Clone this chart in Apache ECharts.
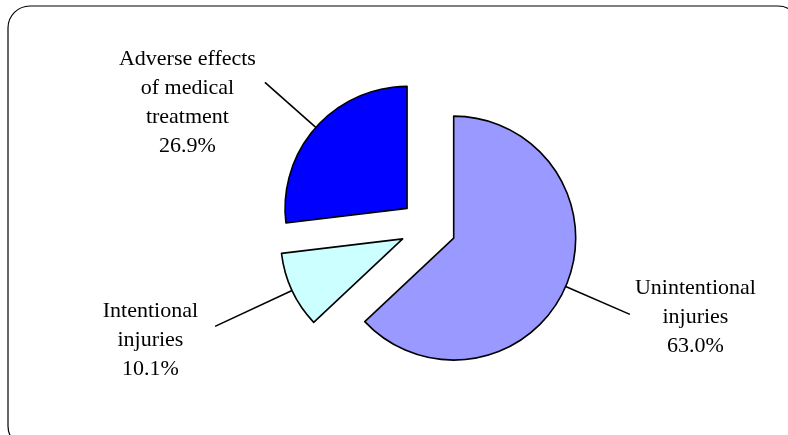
<!DOCTYPE html>
<html>
<head>
<meta charset="utf-8">
<script src="https://cdn.jsdelivr.net/npm/echarts@6/dist/echarts.min.js"></script>
<style>
html,body{margin:0;padding:0;background:#fff;}
#chart{width:788px;height:435px;}
</style>
</head>
<body>
<div id="chart"></div>
<script>
const categories = ['Unintentional\ninjuries', 'Intentional\ninjuries', 'Adverse effects\nof medical\ntreatment'];
const values = [63.0, 10.1, 26.9];
const colors = ['#9999FF', '#CCFFFF', '#0000FF'];

// label leader-line lengths and text padding (styling only)
const lineLengths = [70, 85, 68];
const labelPadding = [[5, 0, 0, 0], [27, 12, 0, 0], [40, 4, 0, 0]];

const chart = echarts.init(document.getElementById('chart'), null, {renderer: 'canvas'});
chart.setOption({
  backgroundColor: '#ffffff',
  animation: false,
  graphic: [{
    type: 'rect',
    shape: {x: 8, y: 6, width: 792, height: 442, r: 22},
    style: {fill: 'none', stroke: '#000', lineWidth: 1.2},
    silent: true
  }],
  series: [{
    type: 'pie',
    center: [428, 227],
    radius: 122,
    startAngle: 90,
    clockwise: true,
    selectedMode: 'multiple',
    selectedOffset: 28,
    emphasis: {disabled: true},
    itemStyle: {borderColor: '#000', borderWidth: 1.6},
    label: {
      show: true,
      position: 'outside',
      alignTo: 'none',
      fontFamily: 'Liberation Serif',
      fontSize: 22,
      lineHeight: 29,
      color: '#000',
      formatter: p => p.name.split('\n').concat([p.value.toFixed(1) + '%']).map(s => '{c|' + s + '}').join('\n'),
      rich: {c: {align: 'center', fontFamily: 'Liberation Serif', fontSize: 22, lineHeight: 29, color: '#000'}}
    },
    labelLine: {show: true, length: 30, length2: 0, lineStyle: {color: '#000', width: 1.6}},
    data: categories.map((c, i) => ({
      name: c, value: values[i], selected: true,
      itemStyle: {color: colors[i]},
      label: {padding: labelPadding[i]},
      labelLine: {length: lineLengths[i], length2: 0}
    }))
  }]
});
</script>
</body>
</html>
